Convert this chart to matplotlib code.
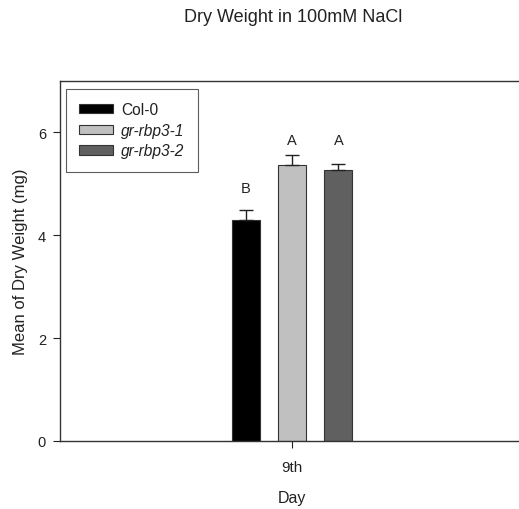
import matplotlib
matplotlib.use("Agg")
import matplotlib.pyplot as plt
import numpy as np

plt.rcParams['font.family'] = ['Liberation Sans', 'DejaVu Sans']

# data
day = ["9th"]
genotypes = ["Col-0", "gr-rbp3-1", "gr-rbp3-2"]
means = [4.30, 5.36, 5.26]
errs = [0.19, 0.21, 0.12]
letters = ["B", "A", "A"]
letter_y = [4.91, 5.86, 5.86]

colors = ["#000000", "#c0c0c0", "#606060"]
styles = ["normal", "italic", "italic"]

fig = plt.figure(figsize=(5.19, 5.10), dpi=100)
ax = fig.add_axes([60 / 519, 68 / 510, 464 / 519, 360 / 510])

width = 0.060
offsets = [-0.1, 0.0, 0.1]
for i in range(3):
    ax.bar(offsets[i], means[i], width, color=colors[i], edgecolor="#333333",
           linewidth=0.8, label=genotypes[i], zorder=2)
    ax.errorbar(offsets[i], means[i], yerr=[[0], [errs[i]]], fmt="none",
                ecolor="#222222", elinewidth=1, capsize=5, capthick=1, zorder=3)
    ax.text(offsets[i], letter_y[i], letters[i], ha="center", va="center",
            fontsize=10.5, color="#222222")

ax.set_xlim(-0.5, 0.5)
ax.set_ylim(0, 7)
ax.set_yticks([0, 2, 4, 6])
ax.set_xticks([0])
ax.set_xticklabels(day)
ax.tick_params(axis="both", direction="out", length=5, width=0.8,
               colors="#222222", pad=5)
ax.tick_params(axis="y", labelsize=10.5)
ax.tick_params(axis="x", labelsize=11, pad=9)
ax.spines["right"].set_visible(False)
for s in ax.spines.values():
    s.set_color("#333333")
    s.set_linewidth(1)

ax.set_xlabel("Day", fontsize=11.5, color="#222222", labelpad=11)
ax.set_ylabel("Mean of Dry Weight (mg)", fontsize=12, color="#222222", labelpad=7)
fig.text(293 / 519, 1 - 17 / 510, "Dry Weight in 100mM NaCl", ha="center",
         va="center", fontsize=13, color="#222222")

leg = ax.legend(loc="upper left", bbox_to_anchor=(6 / 464, 1 - 8 / 360),
                borderaxespad=0, fontsize=11.2, frameon=True, fancybox=False,
                edgecolor="#333333", handlelength=2.2, handleheight=0.56,
                handletextpad=0.5, labelspacing=0.36, borderpad=0.85)
leg.get_frame().set_linewidth(0.8)
for t, st in zip(leg.get_texts(), styles):
    t.set_fontstyle(st)
    t.set_color("#222222")

fig.savefig("out.png", dpi=100)
